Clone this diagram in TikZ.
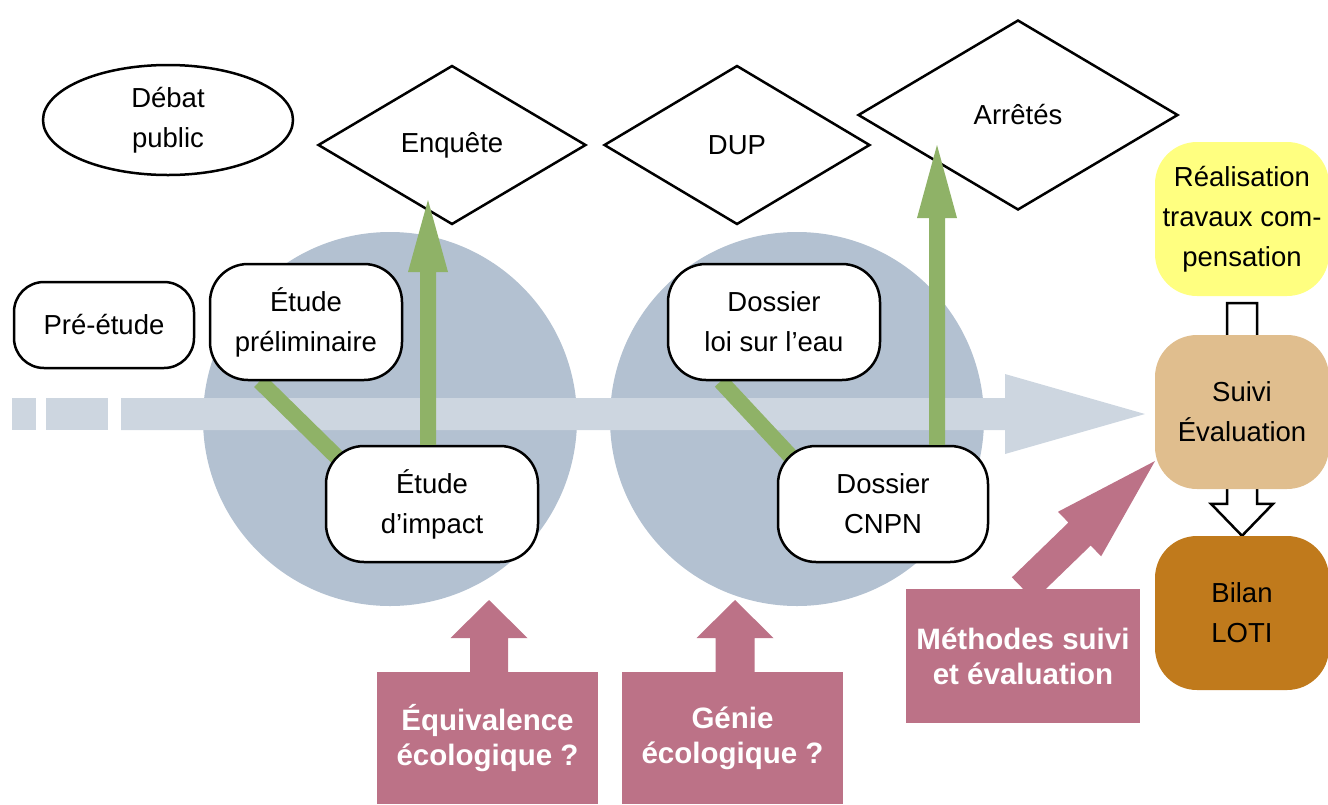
\documentclass[tikz,border=0pt]{standalone}
\usepackage{fontspec}
\setmainfont{Liberation Sans}
\usepackage{tikz}
\usetikzlibrary{calc,positioning,backgrounds,shapes.geometric}
\definecolor{colorcircle}{HTML}{B3C1D1}
\definecolor{colorband}{HTML}{CDD6E0}
\definecolor{colorgreen}{HTML}{8FB267}
\definecolor{colorpink}{HTML}{BC7287}
\definecolor{colorwork}{HTML}{FFFF80}
\definecolor{colorsuivi}{HTML}{E0BE8E}
\definecolor{colorloti}{HTML}{C07A1C}
\tikzset{
  txt/.style={font=\fontsize{27.5}{40}\selectfont, align=center, inner sep=0pt},
  stepbox/.style={txt, draw, line width=2.5pt, fill=white, rounded corners=38pt, minimum height=116pt},
  decision/.style={txt, diamond, draw, line width=2.5pt, fill=white},
  sidebox/.style={txt, rounded corners=42pt, minimum width=174pt, minimum height=154pt},
  question/.style={font=\fontsize{29.5}{35}\selectfont\bfseries, text=white, align=center, fill=colorpink, inner sep=0pt},
  edgegreen/.style={fill=colorgreen},
  edgepink/.style={fill=colorpink},
  edgeband/.style={fill=colorband},
  edgehollow/.style={draw=black, line width=2.5pt, fill=white, line join=miter},
  linkgreen/.style={colorgreen, line width=16pt}
}
% block arrow: [style]{from}{to}{half shaft}{half head}{head length}
\newcommand\blockarrow[6][]{%
  \coordinate (ba) at ($(#3)!#6!(#2)$);
  \path[#1] ($(#2)!#4!90:(#3)$) -- ($(ba)!#4!90:(#3)$) -- ($(ba)!#5!90:(#3)$)
    -- (#3) -- ($(ba)!#5!-90:(#3)$) -- ($(ba)!#4!-90:(#3)$) -- ($(#2)!#4!-90:(#3)$) -- cycle;
}

\begin{document}
\begin{tikzpicture}[x=1pt, y=-1pt]
\useasboundingbox (0,0) rectangle (1328,804);
\begin{scope}[on background layer]
\fill[colorcircle] (390,419) circle[radius=187pt];
\fill[colorcircle] (797,419) circle[radius=187pt];
\end{scope}

% decisions
\node[decision, minimum width=268pt, minimum height=159pt] (enq) at (452,145) {Enquête};
\node[decision, minimum width=266pt, minimum height=159pt] (dup) at (737,145) {DUP};
\node[decision, minimum width=320pt, minimum height=190pt] (arr) at (1018,115) {Arrêtés};
\node[txt, ellipse, draw, line width=2.5pt, minimum width=250pt, minimum height=110pt] (debat) at (168,120) {Débat\\public};

% studies
\node[stepbox, rounded corners=30pt, minimum width=180pt, minimum height=86pt] (pre) at (104,325) {Pré-étude};
\node[stepbox, minimum width=192pt] (prelim) at (306,322) {Étude\\préliminaire};
\node[stepbox, minimum width=212pt] (impact) at (432,504) {Étude\\d’impact};
\node[stepbox, minimum width=212pt] (loi) at (774,322) {Dossier\\loi sur l’eau};
\node[stepbox, minimum width=210pt] (cnpn) at (883,504) {Dossier\\CNPN};

% right column
\node[sidebox, fill=colorwork] (real) at (1242,219) {Réalisation\\travaux com-\\pensation};
\node[sidebox, fill=colorsuivi] (suivi) at (1242,412) {Suivi\\Évaluation};
\node[sidebox, fill=colorloti] (loti) at (1242,613) {Bilan\\LOTI};

% questions
\node[question, minimum width=221pt, minimum height=132pt] (equiv) at (487.5,738) {Équivalence\\écologique ?};
\node[question, minimum width=221pt, minimum height=132pt] (genie) at (732.5,738) {Génie\\écologique ?};
\node[question, minimum width=234pt, minimum height=134pt] (meth) at (1023,656) {Méthodes suivi\\et évaluation};

\coordinate (bandstart) at (121,414);
\coordinate (bandtip) at (1145,414);
\coordinate (enqtip) at (428,200);
\coordinate (arrtip) at (937,145);
\coordinate (equivtip) at (489,600);
\coordinate (genietip) at (735,600);
\coordinate (methtip) at (1155,461);

\begin{scope}[on background layer]
\fill[colorband] (12,398) rectangle (36,430);
\fill[colorband] (46,398) rectangle (108,430);
\blockarrow[edgeband]{bandstart}{bandtip}{16pt}{40pt}{140pt}
\draw[linkgreen] (prelim.-128) -- ($(impact.north west)+(18,18)$);
\draw[linkgreen] (loi.-132) -- ($(cnpn.north west)+(18,16)$);
\blockarrow[edgehollow]{$(real.south)+(0,7)$}{suivi.center}{15pt}{31pt}{32pt}
\blockarrow[edgehollow]{suivi.center}{loti.north}{15pt}{31pt}{32pt}
\end{scope}

\blockarrow[edgegreen]{impact.north -| enqtip}{enqtip}{8pt}{20pt}{72pt}
\blockarrow[edgegreen]{cnpn.north -| arrtip}{arrtip}{8pt}{20pt}{73pt}
\blockarrow[edgepink]{equiv.north -| equivtip}{equivtip}{19pt}{38.5pt}{38pt}
\blockarrow[edgepink]{genie.north -| genietip}{genietip}{19.5pt}{38.5pt}{38pt}
\blockarrow[edgepink]{meth.north}{methtip}{16pt}{31pt}{105pt}
\end{tikzpicture}
\end{document}
